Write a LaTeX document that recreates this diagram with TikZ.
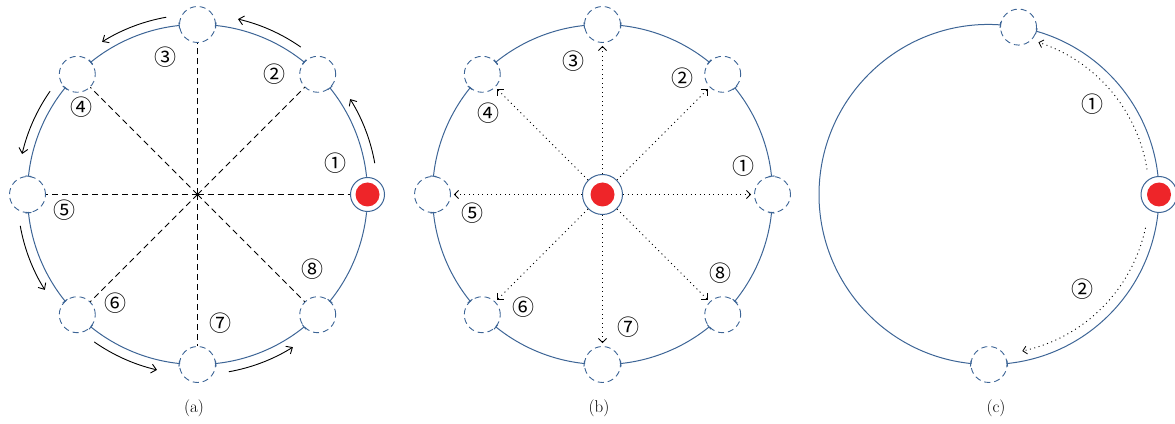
\documentclass[tikz,border=0pt]{standalone}
\usepackage{fontspec}
\newfontfamily\symfont{Noto Sans CJK JP}
\usetikzlibrary{arrows.meta}
\definecolor{ringblue}{HTML}{3D6596}
\definecolor{dotred}{HTML}{EE2529}
\tikzset{
  slot/.style={circle, draw=ringblue, dash pattern=on 6pt off 4pt, line width=0.9pt, minimum size=36pt, inner sep=0pt},
  home/.style={circle, draw=ringblue, line width=1pt, fill=white, minimum size=#1, inner sep=0pt,
    path picture={\fill[dotred] (path picture bounding box.center) circle[radius=12pt];}},
  ring/.style={draw=ringblue, line width=1pt},
  ringtick/.style={ring, -{Bar[width=6pt,line width=1pt]}},
  ringticks/.style={ring, {Bar[width=6pt,line width=1pt]}-{Bar[width=6pt,line width=1pt]}},
  ringtickstart/.style={ring, {Bar[width=6pt,line width=1pt]}-},
  dashline/.style={draw=black, line width=0.8pt, dash pattern=on 6pt off 4pt},
  dotarrow/.style={draw=black, line width=0.9pt, dash pattern=on 1pt off 3.5pt, -{Straight Barb[length=4pt,width=8pt,line width=0.8pt]}, shorten >=3pt},
  movearrow/.style={draw=black, line width=0.9pt, -{Straight Barb[length=5pt,width=9pt,line width=0.9pt]}},
  numlabel/.style={font=\symfont\fontsize{22}{22}\selectfont, inner sep=0pt},
  caption/.style={font=\fontsize{17}{20}\selectfont, inner sep=0pt}
}
\begin{document}
\begin{tikzpicture}[x=1pt,y=1pt]
\useasboundingbox (0,0) rectangle (1175,423);
% ================= panel (a) =================
\coordinate (ac) at (197.5,228.5);
\node[home=34pt] (a1) at ([shift={(0:170)}]ac) {};
\foreach \k/\ang in {2/45,3/90,4/135,5/180,6/225,7/270,8/315}{
  \node[slot] (a\k) at ([shift={(\ang:170)}]ac) {};
}
% ring arcs
\draw[ringtick] ([shift={(6:170)}]ac) arc[start angle=6, end angle=39, radius=170];
\foreach \s in {45,90,135,180,225,270}{
  \draw[ringticks] ([shift={(\s+6:170)}]ac) arc[start angle=\s+6, end angle=\s+39, radius=170];
}
\draw[ringtickstart] ([shift={(321:170)}]ac) arc[start angle=321, end angle=354, radius=170];
% dashed spokes
\foreach \k in {1,...,8}{ \draw[dashline] (ac) -- (a\k); }
% movement arrows
\foreach \s in {0,45,90,135,180,225,270}{
  \draw[movearrow] ([shift={(\s+10:180)}]ac) arc[start angle=\s+10, end angle=\s+32, radius=180];
}
\node[numlabel] (la1) at (335,260) {①};
\node[numlabel] (la2) at (274,349) {②};
\node[numlabel] (la3) at (165,366) {③};
\node[numlabel] (la4) at (81,316) {④};
\node[numlabel] (la5) at (64,213) {⑤};
\node[numlabel] (la6) at (115,120) {⑥};
\node[numlabel] (la7) at (220,100) {⑦};
\node[numlabel] (la8) at (312,154) {⑧};
\node[caption] (capa) at (194,15) {(a)};
% ================= panel (b) =================
\coordinate (bc) at (602.5,228.5);
\node[home=40pt] (b0) at (bc) {};
\foreach \k/\ang in {1/0,2/45,3/90,4/135,5/180,6/225,7/270,8/315}{
  \node[slot] (b\k) at ([shift={(\ang:170)}]bc) {};
}
\foreach \s in {0,45,90,135,180,225,270,315}{
  \draw[ringticks] ([shift={(\s+6:170)}]bc) arc[start angle=\s+6, end angle=\s+39, radius=170];
}
\foreach \k in {1,...,8}{ \draw[dotarrow] (b0) -- (b\k); }
\node[numlabel] (lb1) at (743,257) {①};
\node[numlabel] (lb2) at (682,345) {②};
\node[numlabel] (lb3) at (573,362) {③};
\node[numlabel] (lb4) at (488,310) {④};
\node[numlabel] (lb5) at (472,210) {⑤};
\node[numlabel] (lb6) at (523,116) {⑥};
\node[numlabel] (lb7) at (628,96) {⑦};
\node[numlabel] (lb8) at (720,150) {⑧};
\node[caption] (capb) at (599,15) {(b)};
% ================= panel (c) =================
\coordinate (cc) at (989,228.5);
\node[home=36pt] (c0) at ([shift={(0:170)}]cc) {};
\node[slot] (c1) at ([shift={(80:170)}]cc) {};
\node[slot] (c2) at ([shift={(270:170)}]cc) {};
\draw[ringtick] ([shift={(6:170)}]cc) arc[start angle=6, end angle=74, radius=170];
\draw[ringticks] ([shift={(86:170)}]cc) arc[start angle=86, end angle=264, radius=170];
\draw[ringtickstart] ([shift={(276:170)}]cc) arc[start angle=276, end angle=354, radius=170];
\draw[dotarrow, shorten >=0pt] ([shift={(9:160)}]cc) arc[start angle=9, end angle=72, radius=160];
\draw[dotarrow, shorten >=0pt] ([shift={(-12:160)}]cc) arc[start angle=-12, end angle=-78, radius=160];
\node[numlabel] (lc1) at (1092,319) {①};
\node[numlabel] (lc2) at (1082,134) {②};
\node[caption] (capc) at (996,15) {(c)};
\end{tikzpicture}
\end{document}
